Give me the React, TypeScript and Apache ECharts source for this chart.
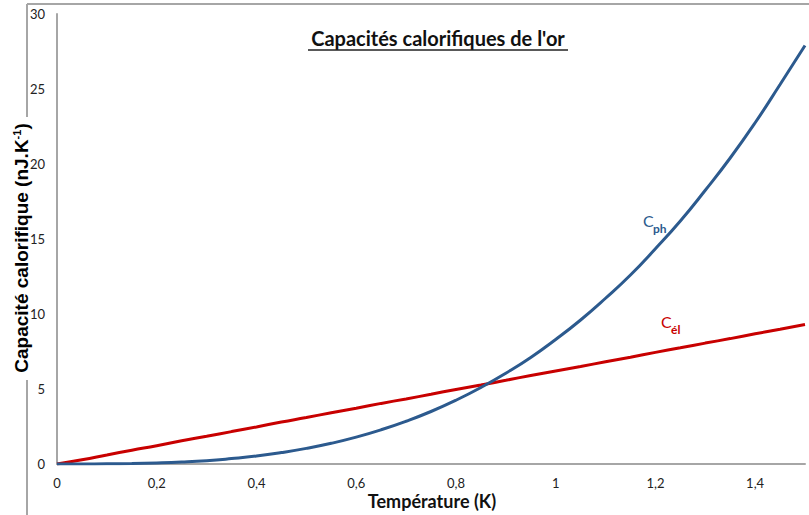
import React, { useEffect, useRef } from "react";
import * as echarts from "echarts";

const temps = [0, 0.05, 0.1, 0.15, 0.2, 0.25, 0.3, 0.35, 0.4, 0.45, 0.5, 0.55, 0.6, 0.65, 0.7, 0.75, 0.8, 0.85, 0.9, 0.95, 1.0, 1.05, 1.1, 1.15, 1.2, 1.25, 1.3, 1.35, 1.4, 1.45, 1.5];
const celValues = [0, 0.28, 0.6, 0.92, 1.22, 1.55, 1.85, 2.16, 2.47, 2.8, 3.1, 3.42, 3.72, 4.04, 4.34, 4.65, 4.97, 5.27, 5.58, 5.9, 6.2, 6.5, 6.82, 7.12, 7.44, 7.75, 8.06, 8.36, 8.68, 8.98, 9.3];
const cphValues = [0, 0, 0.01, 0.03, 0.07, 0.13, 0.22, 0.36, 0.53, 0.76, 1.04, 1.38, 1.79, 2.28, 2.85, 3.5, 4.25, 5.1, 6.05, 7.1, 8.3, 9.6, 11.05, 12.6, 14.35, 16.2, 18.25, 20.4, 22.75, 25.3, 27.9];
const yTicks = { min: 0, max: 30, interval: 5 };
const xTicks = { min: 0, max: 1.5, interval: 0.2 };

const BLUE = "#2C5A8E";
const RED = "#C80000";
const CAL = "Lato, 'Open Sans', sans-serif";

export default function App() {
  const ref = useRef<HTMLDivElement>(null);
  useEffect(() => {
    if (!ref.current) return;
    const chart = echarts.init(ref.current, undefined, { renderer: "svg" });
    const fmt = (v: number) => String(Math.round(v * 10) / 10).replace(".", ",");
    chart.setOption({
      animation: false,
      backgroundColor: "#fff",
      grid: { left: 57, right: 4, top: 14, bottom: 51, containLabel: false },
      xAxis: {
        type: "value",
        min: xTicks.min,
        max: xTicks.max,
        interval: xTicks.interval,
        axisLine: { show: true, lineStyle: { color: "#A6A6A6", width: 2 } },
        axisTick: { show: false },
        splitLine: { show: false },
        axisLabel: { showMaxLabel: false, formatter: fmt, margin: 12, color: "#222", fontFamily: CAL, fontSize: 13 },
      },
      yAxis: {
        type: "value",
        min: yTicks.min,
        max: yTicks.max,
        interval: yTicks.interval,
        axisLine: { show: true, lineStyle: { color: "#A6A6A6", width: 2 } },
        axisTick: { show: false },
        splitLine: { show: false },
        axisLabel: { margin: 12, color: "#222", fontFamily: CAL, fontSize: 13 },
      },
      series: [
        {
          name: "Cél",
          type: "line",
          showSymbol: false,
          smooth: true,
          data: temps.map((t, i) => [t, celValues[i]]),
          lineStyle: { color: RED, width: 3 },
          z: 3,
        },
        {
          name: "Cph",
          type: "line",
          showSymbol: false,
          smooth: true,
          data: temps.map((t, i) => [t, cphValues[i]]),
          lineStyle: { color: BLUE, width: 3 },
          z: 4,
        },
      ],
      graphic: [
        { type: "line", shape: { x1: 27, y1: 4, x2: 809, y2: 4 }, style: { stroke: "#A6A6A6", lineWidth: 2 } },
        { type: "line", shape: { x1: 27, y1: 4, x2: 27, y2: 117 }, style: { stroke: "#A6A6A6", lineWidth: 2 } },
        { type: "line", shape: { x1: 27, y1: 380, x2: 27, y2: 515 }, style: { stroke: "#A6A6A6", lineWidth: 2 } },
        {
          type: "text",
          x: 438,
          y: 38,
          style: {
            text: "Capacités calorifiques de l'or",
            align: "center",
            verticalAlign: "middle",
            font: `bold 20px ${CAL}`,
            fill: "#111",
          },
        },
        { type: "line", shape: { x1: 308, y1: 50, x2: 568, y2: 50 }, style: { stroke: "#222", lineWidth: 1.5 } },
        {
          type: "text",
          x: 432,
          y: 501,
          style: {
            text: "Température (K)",
            align: "center",
            verticalAlign: "middle",
            font: `bold 18px ${CAL}`,
            fill: "#111",
          },
        },
        {
          type: "text",
          x: 21,
          y: 248,
          rotation: Math.PI / 2,
          style: {
            text: "{n|Capacité calorifique (nJ.K}{s|-1}{n|)}",
            align: "center",
            verticalAlign: "middle",
            fill: "#000",
            rich: {
              n: { font: "bold 19px 'Liberation Sans', Arial, sans-serif", fill: "#000" },
              s: { font: "bold 11px 'Liberation Sans', Arial, sans-serif", fill: "#000", verticalAlign: "top", padding: [0, 0, 9, 0] },
            },
          },
        },
        { type: "text", x: 643, y: 220, style: { text: "C", font: `16px ${CAL}`, fill: BLUE, verticalAlign: "middle" } },
        { type: "text", x: 653, y: 228, style: { text: "ph", font: `bold 12px ${CAL}`, fill: BLUE, verticalAlign: "middle" } },
        { type: "text", x: 661, y: 321, style: { text: "C", font: `16px ${CAL}`, fill: RED, verticalAlign: "middle" } },
        { type: "text", x: 671, y: 329, style: { text: "él", font: `bold 12px ${CAL}`, fill: RED, verticalAlign: "middle" } },
      ],
    });
    return () => chart.dispose();
  }, []);
  return <div ref={ref} style={{ position: "fixed", left: 0, top: 0, width: 809, height: 515 }} />;
}
